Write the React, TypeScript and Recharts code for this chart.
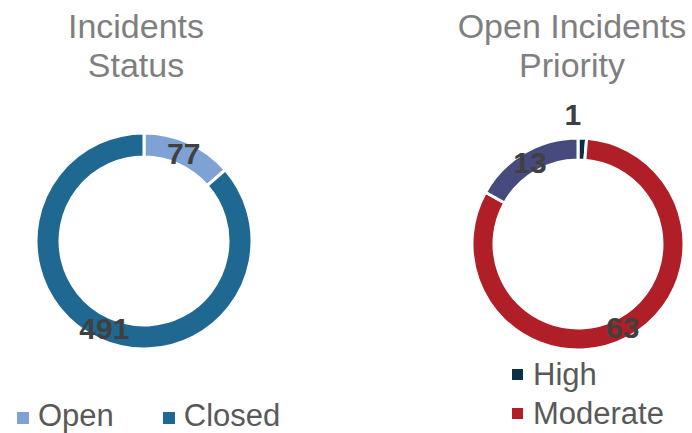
import React from 'react';
import { PieChart, Pie, Cell, Legend } from 'recharts';

const statusNames = ['Open', 'Closed'];
const statusValues = [77, 491];
const statusColors = ['#7ea2d4', '#1f6891'];

const priorityNames = ['High', 'Moderate', 'Low'];
const priorityValues = [1, 63, 13];
const priorityColors = ['#0b2f48', '#b01f28', '#464a7c'];
// only these legend rows fit inside the picture
const priorityLegendShown = ['High', 'Moderate'];

const FONT = '"Liberation Sans", Arial, sans-serif';
const RAD = Math.PI / 180;

const statusData = statusNames.map((name, i) => ({ name, value: statusValues[i] }));
const priorityData = priorityNames.map((name, i) => ({ name, value: priorityValues[i] }));

// value labels sit in the middle of the ring, tiny slices go outside
const renderLabel = (props: any) => {
  const { cx, cy, midAngle, innerRadius, outerRadius, value, percent } = props;
  const small = percent < 0.04;
  const r = small ? outerRadius + 24 : (innerRadius + outerRadius) / 2;
  const x = cx + r * Math.cos(-midAngle * RAD);
  const y = cy + r * Math.sin(-midAngle * RAD);
  return (
    <text
      x={small ? x - 2 : x}
      y={y}
      textAnchor={small ? 'end' : 'middle'}
      dominantBaseline="central"
      fill="#404040"
      fontSize={30}
      fontWeight="bold"
      fontFamily={FONT}
    >
      {value}
    </text>
  );
};

// keep legend in data order (recharts sorts it by name otherwise)
const ordered = (payload: any[], order: string[]) =>
  order.map((n) => (payload || []).find((p: any) => p.value === n)).filter(Boolean);

const RowLegend = ({ payload }: any) => (
  <div style={{ display: 'flex', gap: 49, fontFamily: FONT, fontSize: 31, lineHeight: '38px', color: '#595959' }}>
    {ordered(payload, statusNames).map((p: any) => (
      <div key={p.value} style={{ display: 'flex', alignItems: 'center' }}>
        <span style={{ width: 12, height: 12, background: p.color, marginRight: 9, position: 'relative', top: 2 }} />
        <span>{p.value}</span>
      </div>
    ))}
  </div>
);

const ColumnLegend = ({ payload }: any) => (
  <div style={{ fontFamily: FONT, fontSize: 31, lineHeight: '39px', color: '#595959' }}>
    {ordered(payload, priorityLegendShown).map((p: any) => (
      <div key={p.value} style={{ display: 'flex', alignItems: 'center' }}>
        <span style={{ width: 11, height: 11, background: p.color, marginRight: 10 }} />
        <span>{p.value}</span>
      </div>
    ))}
  </div>
);

const titleStyle: React.CSSProperties = {
  position: 'absolute',
  top: 7,
  textAlign: 'center',
  fontFamily: FONT,
  fontSize: 34,
  lineHeight: '39px',
  color: '#7f7f7f',
  whiteSpace: 'pre-line',
};

export default function App() {
  return (
    <div style={{ position: 'fixed', top: 0, left: 0, width: 692, height: 433, overflow: 'hidden', background: '#fff' }}>
      <div style={{ position: 'absolute', left: 0, top: 0 }}>
        <PieChart width={346} height={433} margin={{ top: 0, right: 0, bottom: 0, left: 0 }}>
          <Pie
            data={statusData}
            dataKey="value"
            nameKey="name"
            cx={144}
            cy={241}
            innerRadius={84}
            outerRadius={108}
            startAngle={90}
            endAngle={-270}
            stroke="#fff"
            strokeWidth={3}
            label={renderLabel}
            labelLine={false}
            isAnimationActive={false}
          >
            {statusData.map((_, i) => (
              <Cell key={`s-${i}`} fill={statusColors[i]} />
            ))}
          </Pie>
          <Legend
            content={<RowLegend />}
            wrapperStyle={{ position: 'absolute', left: 17, top: 397, width: 329, bottom: 'auto' }}
          />
        </PieChart>
      </div>
      <div style={{ ...titleStyle, left: 0, width: 272 }}>{'Incidents\nStatus'}</div>

      <div style={{ position: 'absolute', left: 346, top: 0 }}>
        <PieChart width={346} height={433} margin={{ top: 0, right: 0, bottom: 0, left: 0 }}>
          <Pie
            data={priorityData}
            dataKey="value"
            nameKey="name"
            cx={232}
            cy={244}
            innerRadius={84}
            outerRadius={106}
            startAngle={90}
            endAngle={-270}
            stroke="#fff"
            strokeWidth={3}
            label={renderLabel}
            labelLine={false}
            isAnimationActive={false}
          >
            {priorityData.map((_, i) => (
              <Cell key={`p-${i}`} fill={priorityColors[i]} />
            ))}
          </Pie>
          <Legend
            layout="vertical"
            content={<ColumnLegend />}
            wrapperStyle={{ position: 'absolute', left: 166, top: 355, width: 180, bottom: 'auto' }}
          />
        </PieChart>
      </div>
      <div style={{ ...titleStyle, left: 422, width: 300 }}>{'Open Incidents\nPriority'}</div>
    </div>
  );
}
